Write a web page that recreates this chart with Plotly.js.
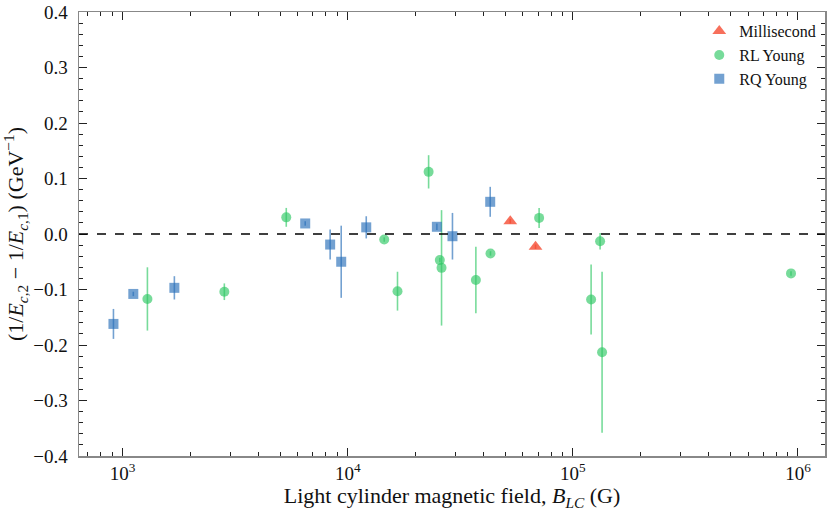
<!DOCTYPE html>
<html>
<head>
<meta charset="utf-8">
<script src="https://cdn.plot.ly/plotly-3.0.1.min.js"></script>
<style>
  html, body { margin: 0; padding: 0; background: #fff; }
  #chart { width: 830px; height: 511px; }
</style>
</head>
<body>
<div id="chart"></div>
<script>
// Millisecond pulsars
var msp_x = [52700, 68250];
var msp_y = [0.023, -0.023];
var msp_err = [0.004, 0.004];

// Radio-loud young pulsars
var rl_x = [1288, 2829, 5330, 14520, 16630, 22860, 25640, 26090, 37070, 43050, 70800, 120500, 132100, 134800, 931000];
var rl_y = [-0.117, -0.104, 0.030, -0.010, -0.103, 0.112, -0.047, -0.061, -0.083, -0.035, 0.029, -0.118, -0.013, -0.213, -0.071];
var rl_err = [0.057, 0.015, 0.017, 0.004, 0.035, 0.030, 0.004, 0.104, 0.060, 0.004, 0.018, 0.063, 0.015, 0.145, 0.004];

// Radio-quiet young pulsars
var rq_x = [910, 1115, 1697, 6470, 8350, 9350, 12080, 24880, 29180, 42930];
var rq_y = [-0.162, -0.108, -0.097, 0.019, -0.019, -0.050, 0.012, 0.013, -0.004, 0.058];
var rq_err = [0.027, 0.004, 0.021, 0.004, 0.027, 0.065, 0.020, 0.006, 0.042, 0.027];

var major_x = [1e3, 1e4, 1e5, 1e6];
var major_x_text = ['10<sup>3</sup>', '10<sup>4</sup>', '10<sup>5</sup>', '10<sup>6</sup>'];

// minor ticks at 2..9 x 10^n
var minor_x = [];
[100, 1000, 10000, 100000, 1000000].forEach(function (d) {
  for (var m = 2; m <= 9; m++) minor_x.push(m * d);
});

var red = 'rgba(245,75,50,0.8)';
var green = 'rgba(46,200,100,0.65)';
var blue = 'rgba(40,110,185,0.65)';

function series(name, x, y, err, color, symbol, size) {
  return {
    x: x, y: y, name: name, mode: 'markers', type: 'scatter',
    marker: { color: color, symbol: symbol, size: size, line: { width: 0 } },
    error_y: { type: 'data', array: err, visible: true, color: color, thickness: 1.6, width: 0 }
  };
}

var data = [
  series('Millisecond', msp_x, msp_y, msp_err, red, 'triangle-up', 12),
  series('RL Young', rl_x, rl_y, rl_err, green, 'circle', 10),
  series('RQ Young', rq_x, rq_y, rq_err, blue, 'square', 10)
];

var font = 'Liberation Serif, DejaVu Serif, serif';

var layout = {
  width: 830, height: 511,
  margin: { l: 79, r: 5, t: 12, b: 55 },
  paper_bgcolor: '#fff', plot_bgcolor: '#fff',
  font: { family: font, color: '#111' },
  showlegend: true,
  legend: {
    x: 0.995, xanchor: 'right', y: 0.995, yanchor: 'top',
    bgcolor: 'rgba(0,0,0,0)', font: { family: font, size: 16, color: '#111' }
  },
  xaxis: {
    type: 'log', range: [2.806, 6.12],
    tickvals: major_x, ticktext: major_x_text,
    ticks: 'inside', ticklen: 8, tickwidth: 1, tickcolor: '#222',
    mirror: 'allticks', showline: true, linecolor: '#888', linewidth: 1.5,
    showgrid: false, zeroline: false,
    tickfont: { family: font, size: 19 },
    minor: { tickvals: minor_x, ticks: 'inside', ticklen: 4, tickwidth: 1, tickcolor: '#222', showgrid: false },
    title: { text: 'Light cylinder magnetic field, <i>B</i><sub><i>LC</i></sub> (G)', font: { family: font, size: 22 }, standoff: 4 }
  },
  yaxis: {
    range: [-0.4, 0.4], dtick: 0.1, tick0: 0, tickformat: '.1f',
    ticks: 'inside', ticklen: 8, tickwidth: 1, tickcolor: '#222',
    mirror: 'allticks', showline: true, linecolor: '#888', linewidth: 1.5,
    showgrid: false, zeroline: false, ticklabelstandoff: 6,
    tickfont: { family: font, size: 19 },
    minor: { dtick: 0.02, ticks: 'inside', ticklen: 4, tickwidth: 1, tickcolor: '#222', showgrid: false },
    title: { text: '(1/<i>E</i><sub><i>c</i>,2</sub> \u2212 1/<i>E</i><sub><i>c</i>,1</sub>) (GeV<sup>\u22121</sup>)', font: { family: font, size: 22 }, standoff: 6 }
  },
  shapes: [{
    type: 'line', xref: 'paper', x0: 0, x1: 1, yref: 'y', y0: 0, y1: 0,
    line: { color: '#000', width: 1.4, dash: 'dash' }
  }]
};

Plotly.newPlot('chart', data, layout, { displayModeBar: false, staticPlot: true });
</script>
</body>
</html>
